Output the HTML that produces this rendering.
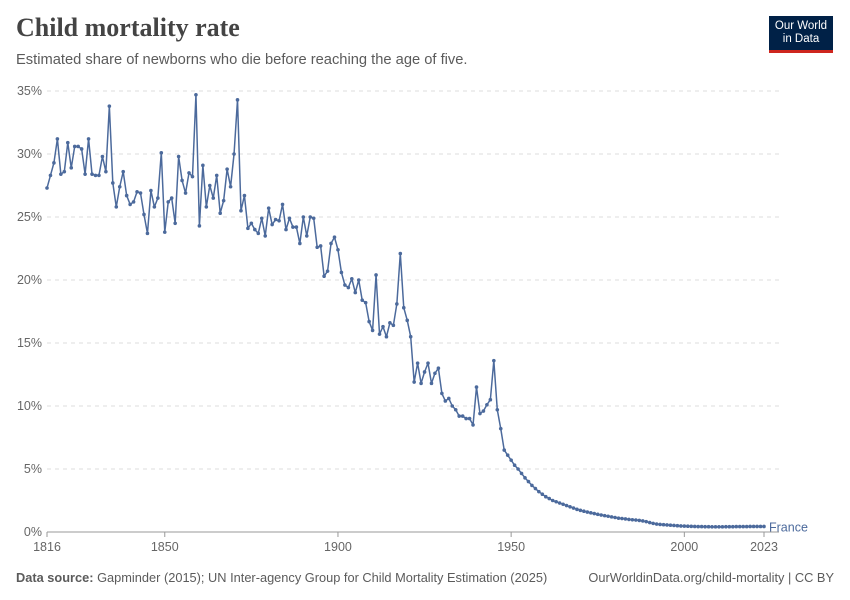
<!DOCTYPE html>
<html><head><meta charset="utf-8"><style>
body{margin:0;background:#fff;}
#wrap{position:relative;width:850px;height:600px;overflow:hidden;font-family:"Liberation Sans",sans-serif;}
.title{position:absolute;left:16px;top:13px;font-family:"Liberation Serif",serif;font-size:26px;font-weight:bold;color:#444;}
.sub{position:absolute;left:16px;top:52px;font-size:14.7px;color:#5b5b5b;}
.logo{position:absolute;left:769px;top:16px;width:64px;height:37px;background:#002147;color:#fff;font-size:11.5px;line-height:13px;text-align:center;padding-top:4px;box-sizing:border-box;border-bottom:3px solid #ce261e;}
.foot{position:absolute;top:570px;font-size:12.8px;color:#5b5b5b;}
</style></head><body>
<div id="wrap">
<div class="title">Child mortality rate</div>
<div class="sub">Estimated share of newborns who die before reaching the age of five.</div>
<div class="logo">Our World<br>in Data</div>
<svg id="chart" width="850" height="600" style="position:absolute;left:0;top:0"></svg>
<div class="foot" style="left:16px"><b>Data source:</b> Gapminder (2015); UN Inter-agency Group for Child Mortality Estimation (2025)</div>
<div class="foot" style="right:16px">OurWorldinData.org/child-mortality | CC BY</div>
</div>
<script>
const startYear = 1816;
const values = [27.3,28.3,29.3,31.2,28.4,28.6,30.9,28.9,30.6,30.6,30.4,28.4,31.2,28.4,28.3,28.3,29.8,28.6,33.8,27.7,
25.8,27.4,28.6,26.7,26.0,26.2,27.0,26.9,25.2,23.7,27.1,25.8,26.5,30.1,23.8,26.2,26.5,24.5,29.8,27.9,
26.9,28.5,28.2,34.7,24.3,29.1,25.8,27.5,26.5,28.3,25.3,26.3,28.8,27.4,30.0,34.3,25.5,26.7,24.1,24.5,
24.0,23.7,24.9,23.5,25.7,24.4,24.8,24.7,26.0,24.0,24.9,24.2,24.2,22.9,25.0,23.5,25.0,24.9,22.6,22.7,
20.3,20.7,22.9,23.4,22.4,20.6,19.6,19.4,20.1,19.0,20.0,18.4,18.2,16.7,16.0,20.4,15.7,16.3,15.5,16.6,
16.4,18.1,22.1,17.8,16.8,15.5,11.9,13.4,11.8,12.7,13.4,11.8,12.6,13.0,11.0,10.4,10.6,10.0,9.7,9.2,
9.2,9.0,9.0,8.5,11.5,9.4,9.6,10.1,10.5,13.6,9.7,8.2,6.5,6.1,5.7,5.3,5.0,4.65,4.3,4.0,
3.7,3.45,3.2,3.0,2.8,2.65,2.5,2.4,2.3,2.2,2.1,2.0,1.9,1.8,1.72,1.65,1.58,1.52,1.46,1.4,
1.35,1.3,1.25,1.2,1.15,1.1,1.07,1.04,1.0,0.97,0.95,0.92,0.88,0.82,0.75,0.68,0.63,0.6,0.58,0.56,
0.54,0.52,0.5,0.48,0.47,0.46,0.45,0.44,0.43,0.43,0.42,0.42,0.41,0.41,0.41,0.41,0.42,0.42,0.42,0.43,
0.43,0.43,0.43,0.44,0.44,0.44,0.44,0.44];
const yTicks = [0,5,10,15,20,25,30,35];
const xTicks = [1816,1850,1900,1950,2000,2023];
const seriesName = "France";

const NS="http://www.w3.org/2000/svg";
const svg=document.getElementById('chart');
const x0=47,x1=764,y0=532,y1=91;
const xs=y=>x0+(y-1816)*(x1-x0)/(2023-1816);
const ys=v=>y0-v*(y0-y1)/35;
function mk(t,a){const e=document.createElementNS(NS,t);for(const k in a)e.setAttribute(k,a[k]);svg.appendChild(e);return e;}
yTicks.forEach(t=>{
  const l=mk('line',{x1:x0,x2:x1+15,y1:ys(t),y2:ys(t),stroke:t===0?'#999':'#ddd','stroke-dasharray':t===0?'':'4,4'});
  
  
  const tx=mk('text',{x:42,y:ys(t)+4,'text-anchor':'end','font-size':12.5,fill:'#666','font-family':'Liberation Sans,sans-serif'});
  tx.textContent=t+'%';
  
  
});
xTicks.forEach(t=>{
  const l=mk('line',{x1:xs(t),x2:xs(t),y1:y0,y2:y0+5,stroke:'#999'});
  
  
  const tx=mk('text',{x:xs(t),y:y0+19,'text-anchor':'middle','font-size':12.5,fill:'#666','font-family':'Liberation Sans,sans-serif'});
  tx.textContent=t;
  
  
});
const pts=values.map((v,i)=>[xs(startYear+i),ys(v)]);
const path=mk('polyline',{points:pts.map(p=>p.join(',')).join(' '),fill:'none',stroke:'#4c6a9c','stroke-width':1.5,'stroke-linejoin':'round'});


pts.forEach(p=>{
  const c=mk('circle',{cx:p[0],cy:p[1],r:1.8,fill:'#4c6a9c'});
  
  
});
const last=pts[pts.length-1];
const lab=mk('text',{x:last[0]+5,y:last[1]+5,'font-size':12.5,fill:'#4c6a9c','font-family':'Liberation Sans,sans-serif'});
lab.textContent=seriesName;


</script>
</body></html>
